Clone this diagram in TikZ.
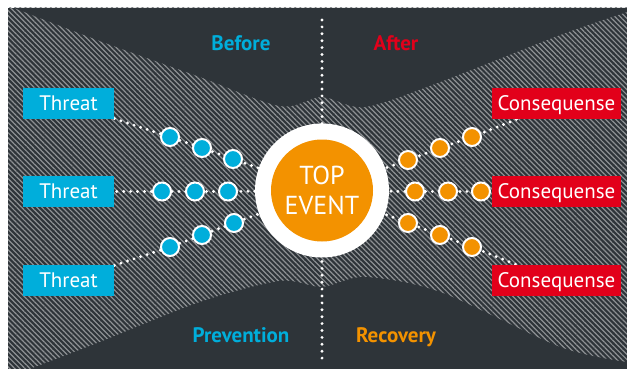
\documentclass[tikz,border=0pt]{standalone}
\usepackage{fontspec}
\setmainfont{PT Sans}
\usetikzlibrary{patterns.meta}
\definecolor{panelc}{HTML}{2E3439}
\definecolor{stripec}{HTML}{8E9194}
\definecolor{cyanb}{HTML}{00AEDB}
\definecolor{redb}{HTML}{E2001A}
\definecolor{orangeb}{HTML}{F39200}
\pgfdeclarelayer{panellayer}
\pgfdeclarelayer{linelayer}
\pgfsetlayers{panellayer,linelayer,main}
\tikzset{
  threatbox/.style={fill=cyanb, text=white, minimum width=91pt, minimum height=31pt,
    inner sep=0pt, text height=14pt, text depth=0pt, font=\fontsize{21}{21}\selectfont},
  consbox/.style={threatbox, fill=redb, minimum width=129pt},
  bdot/.style={circle, fill=cyanb, draw=white, line width=2pt, minimum size=18pt, inner sep=0pt},
  odot/.style={bdot, fill=orangeb},
  dotline/.style={draw=white, line width=3.2pt, line cap=round, dash pattern=on 0pt off 6.9pt},
  phase/.style={font=\bfseries\fontsize{21}{21}\selectfont, anchor=base}
}
\begin{document}
\begin{tikzpicture}[x=1pt,y=-1pt]
\useasboundingbox (0,0) rectangle (627,369);
\begin{pgfonlayer}{panellayer}
\fill[panelc] (8,8) rectangle (627,369);
\fill[pattern={Lines[angle=-45,distance=3.6pt,line width=1.2pt]}, pattern color=stripec] (8,8) rectangle (627,369);
\fill[panelc] plot[smooth, tension=0.5] coordinates {(14,8) (100,41) (200,77) (280,106) (322,97) (365,107) (440,82) (560,35) (627,12)} -- (627,8) -- cycle;
\fill[panelc] plot[smooth, tension=0.5] coordinates {(30,369) (100,342) (200,302) (280,281) (322,287) (365,277) (440,292) (560,347) (627,362)} -- (627,369) -- cycle;
\end{pgfonlayer}

% ring
\node[circle, fill=white, minimum size=134pt, inner sep=0pt] (ring) at (322,190.5) {};
\node[circle, fill=orangeb, minimum size=102pt, inner sep=0pt, text=white, align=center,
  font=\fontsize{26}{30}\selectfont] (top) at (ring.center) {TOP\\EVENT};

% boxes
\node[threatbox] (t1) at (68.5,103.5) {Threat};
\node[threatbox] (t2) at (68.5,191.5) {Threat};
\node[threatbox] (t3) at (68.5,280.5) {Threat};
\node[consbox] (c1) at (556.5,103.5) {Consequense};
\node[consbox] (c2) at (556.5,191.5) {Consequense};
\node[consbox] (c3) at (556.5,280.5) {Consequense};

% dots
\node[bdot] (b11) at (170,137) {};
\node[bdot] (b12) at (202,148) {};
\node[bdot] (b13) at (233,159) {};
\node[bdot] (b21) at (162,191.5) {};
\node[bdot] (b22) at (195,191.5) {};
\node[bdot] (b23) at (228,191.5) {};
\node[bdot] (b31) at (170,247) {};
\node[bdot] (b32) at (202,235) {};
\node[bdot] (b33) at (234,223) {};
\node[odot] (o11) at (408,160) {};
\node[odot] (o12) at (440,148) {};
\node[odot] (o13) at (472,137) {};
\node[odot] (o21) at (415,191.5) {};
\node[odot] (o22) at (448,191.5) {};
\node[odot] (o23) at (481,191.5) {};
\node[odot] (o31) at (408,223) {};
\node[odot] (o32) at (440,235) {};
\node[odot] (o33) at (472,247) {};

\coordinate (vtop) at (322,20);
\coordinate (vbot) at (322,362);

% labels
\node[phase, text=cyanb] (before) at (241,51) {Before};
\node[phase, text=redb] (after) at (396,51) {After};
\node[phase, text=cyanb] (prev) at (241,342) {Prevention};
\node[phase, text=orangeb] (recov) at (396,342) {Recovery};

\begin{pgfonlayer}{linelayer}
\draw[dotline] (vtop) -- (ring.center) -- (vbot);
\draw[dotline] (t1.center) -- (b11.center) -- (b12.center) -- (b13.center) -- (ring.center);
\draw[dotline] (t2.center) -- (b21.center) -- (b22.center) -- (b23.center) -- (ring.center);
\draw[dotline] (t3.center) -- (b31.center) -- (b32.center) -- (b33.center) -- (ring.center);
\draw[dotline] (ring.center) -- (o11.center) -- (o12.center) -- (o13.center) -- (c1.center);
\draw[dotline] (ring.center) -- (o21.center) -- (o22.center) -- (o23.center) -- (c2.center);
\draw[dotline] (ring.center) -- (o31.center) -- (o32.center) -- (o33.center) -- (c3.center);
\end{pgfonlayer}
\end{tikzpicture}
\end{document}
